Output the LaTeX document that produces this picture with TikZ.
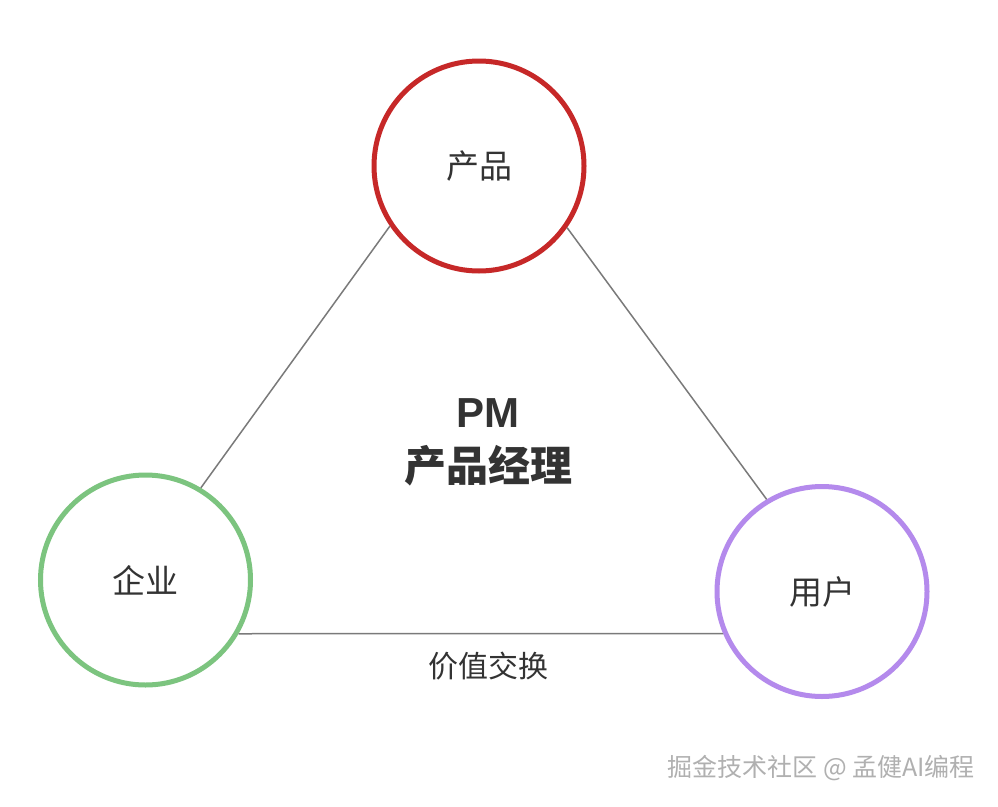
\documentclass[tikz,border=0pt]{standalone}
\usepackage{fontspec}
\setmainfont{Noto Sans CJK SC}
\newfontfamily\latinbold{Liberation Sans}
\definecolor{cred}{HTML}{C62828}
\definecolor{cgreen}{HTML}{7CC47F}
\definecolor{cpurple}{HTML}{B48AEC}
\definecolor{ctext}{HTML}{333333}
\definecolor{cline}{HTML}{7A7A7A}
\definecolor{cmark}{HTML}{B0B0B0}
\tikzset{
  role/.style={circle, draw, line width=5pt, minimum size=210pt, inner sep=0pt, text=ctext, font=\fontsize{33}{40}\selectfont},
  link/.style={draw=cline, line width=1.5pt},
}
\begin{document}
\begin{tikzpicture}[x=1pt,y=-1pt]
\useasboundingbox[fill=white] (0,0) rectangle (998,806);
\node[role, draw=cred] (prod) at (479,166) {产品};
\node[role, draw=cgreen] (ent) at (145.5,580) {企业};
\node[role, draw=cpurple] (user) at (822,591.5) {用户};
\draw[link] (prod.214.3) -- (ent.59);
\draw[link] (prod.325.4) -- (user.121.6);
\draw[link] (ent.-30.1) -- (user.203.2);
\node[text=ctext, font=\fontsize{30}{36}\selectfont] (lbl) at (488,666) {价值交换};
\node[text=ctext, font=\fontsize{42}{54}\selectfont\bfseries, align=center] (pm) at (488,442) {{\latinbold\bfseries PM}\\产品经理};
\node[anchor=east, text=cmark, font=\fontsize{25}{30}\selectfont, inner sep=0pt] (mark) at (975,768) {掘金技术社区 @ 孟健AI编程};
\end{tikzpicture}
\end{document}
